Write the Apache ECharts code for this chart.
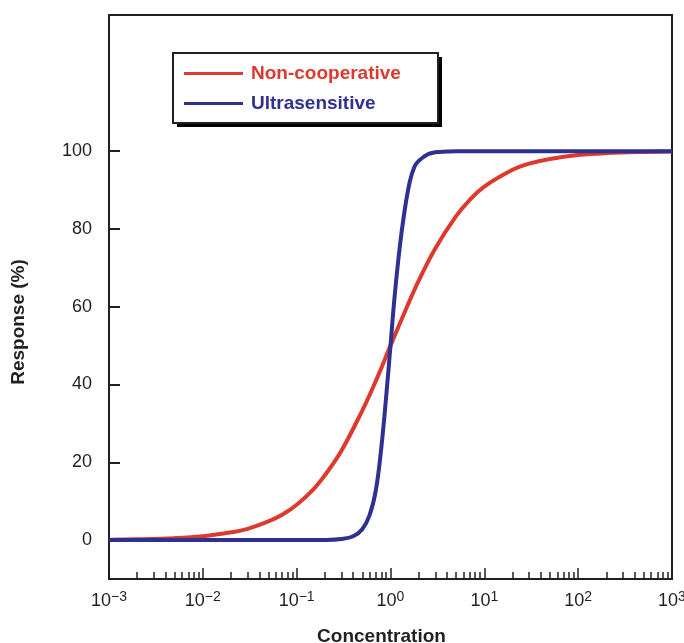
<!DOCTYPE html>
<html>
<head>
<meta charset="utf-8">
<script src="https://cdn.jsdelivr.net/npm/echarts@6/dist/echarts.min.js"></script>
<style>html,body{margin:0;padding:0;background:#fff}#c{width:684px;height:643px}</style>
</head>
<body>
<div id="c"></div>
<script>
// Concentrations and responses
var redConc = [0.001,0.002,0.005,0.01,0.02,0.03,0.05,0.07,0.1,0.15,0.2,0.3,0.5,0.7,1,1.5,2,3,5,7,10,20,30,50,100,200,500,1000];
var redResp = [0.1,0.2,0.5,1,2,2.9,4.8,6.5,9.1,13,16.7,23,33.3,41,50,60,66.7,75,83.3,87.5,90.9,95.2,96.8,98,99,99.5,99.8,99.9];
var blueConc = [0.001,0.01,0.1,0.2,0.3,0.4,0.5,0.6,0.7,0.8,0.9,1,1.1,1.25,1.4,1.6,1.8,2,2.5,3,4,5,10,100,1000];
var blueResp = [0,0,0,0.05,0.3,1.0,2.8,6.5,13,24,37,50,62,75,84,92,96,97.5,99.2,99.7,99.9,100,100,100,100];
var yTicks = [0,20,40,60,80,100];
var xMajor = [0.001,0.01,0.1,1,10,100,1000];
var xExp = {0.001:'−3',0.01:'−2',0.1:'−1',1:'0',10:'1',100:'2',1000:'3'};
var xMinor = [];
[0.001,0.01,0.1,1,10,100].forEach(function(d){for(var k=2;k<=9;k++){xMinor.push(+(k*d).toPrecision(3));}});

function pairs(xs, ys){return xs.map(function(x,i){return [x, ys[i]];});}

var dark = '#231f20';
var red = '#dc3a2e';
var blue = '#2e3192';
var font = 'Liberation Sans, Arial, Helvetica, sans-serif';

var chart = echarts.init(document.getElementById('c'));
chart.setOption({
  animation: false,
  textStyle: {fontFamily: font},
  grid: {left: 109, right: 12, top: 15, bottom: 64, show: true, borderColor: dark, borderWidth: 2, backgroundColor: 'transparent', outerBoundsMode: 'none', containLabel: false},
  graphic: [
    {type: 'rect', z: 5, silent: true, shape: {x: 177, y: 57, width: 265, height: 70}, style: {fill: '#000'}},
    {type: 'rect', z: 6, silent: true, shape: {x: 173, y: 53, width: 265, height: 70}, style: {fill: '#fff', stroke: dark, lineWidth: 2}}
  ],
  legend: {
    z: 10,
    orient: 'vertical', left: 173, top: 53,
    padding: [11, 30, 11, 11],
    icon: 'rect', itemWidth: 59, itemHeight: 3, itemGap: 11,
    textStyle: {fontSize: 19, fontWeight: 'bold', fontFamily: font, padding: [0,0,0,3]},
    data: [
      {name: 'Non-cooperative', textStyle: {color: red}},
      {name: 'Ultrasensitive', textStyle: {color: blue}}
    ]
  },
  xAxis: [{
    type: 'log', logBase: 10, min: 0.001, max: 1000,
    name: 'Concentration', nameLocation: 'middle', nameGap: 48,
    nameTextStyle: {fontSize: 19, fontWeight: 'bold', color: dark, padding: [0, 18, 0, 0]},
    axisLine: {show: true, onZero: false, lineStyle: {color: dark, width: 2}},
    axisTick: {show: true, inside: true, length: 11, lineStyle: {color: dark, width: 1.5}, customValues: xMajor},
    axisLabel: {
      color: dark, fontSize: 18, margin: 11, customValues: xMajor,
      formatter: function(v){ var key = +(+v).toPrecision(3); return '10{s|' + (xExp[key] || '') + '}'; },
      rich: {s: {fontSize: 14, verticalAlign: 'top', padding: [0,0,9,0], color: dark}}
    },
    splitLine: {show: false}, minorTick: {show: false}
  }, {
    type: 'log', logBase: 10, min: 0.001, max: 1000, position: 'bottom',
    axisLine: {show: false, onZero: false},
    axisTick: {show: true, inside: true, length: 7, lineStyle: {color: dark, width: 1.5}, customValues: xMinor},
    axisLabel: {show: false},
    splitLine: {show: false}
  }],
  yAxis: {
    type: 'value', min: -10, max: 135,
    name: 'Response (%)', nameLocation: 'middle', nameGap: 81,
    nameTextStyle: {fontSize: 19, fontWeight: 'bold', color: dark, padding: [0, 50, 0, 0]},
    axisLine: {show: true, onZero: false, lineStyle: {color: dark, width: 2}},
    axisTick: {show: true, inside: true, length: 11, lineStyle: {color: dark, width: 2}, customValues: yTicks},
    axisLabel: {color: dark, fontSize: 18, margin: 17, customValues: yTicks},
    splitLine: {show: false}
  },
  series: [
    {name: 'Non-cooperative', type: 'line', xAxisIndex: 0, data: pairs(redConc, redResp), smooth: 0.4, showSymbol: false, symbol: 'none',
     lineStyle: {color: red, width: 4}, itemStyle: {color: red}},
    {name: 'Ultrasensitive', type: 'line', xAxisIndex: 0, data: pairs(blueConc, blueResp), smooth: 0.4, showSymbol: false, symbol: 'none',
     lineStyle: {color: blue, width: 4}, itemStyle: {color: blue}}
  ]
});
</script>
</body>
</html>
